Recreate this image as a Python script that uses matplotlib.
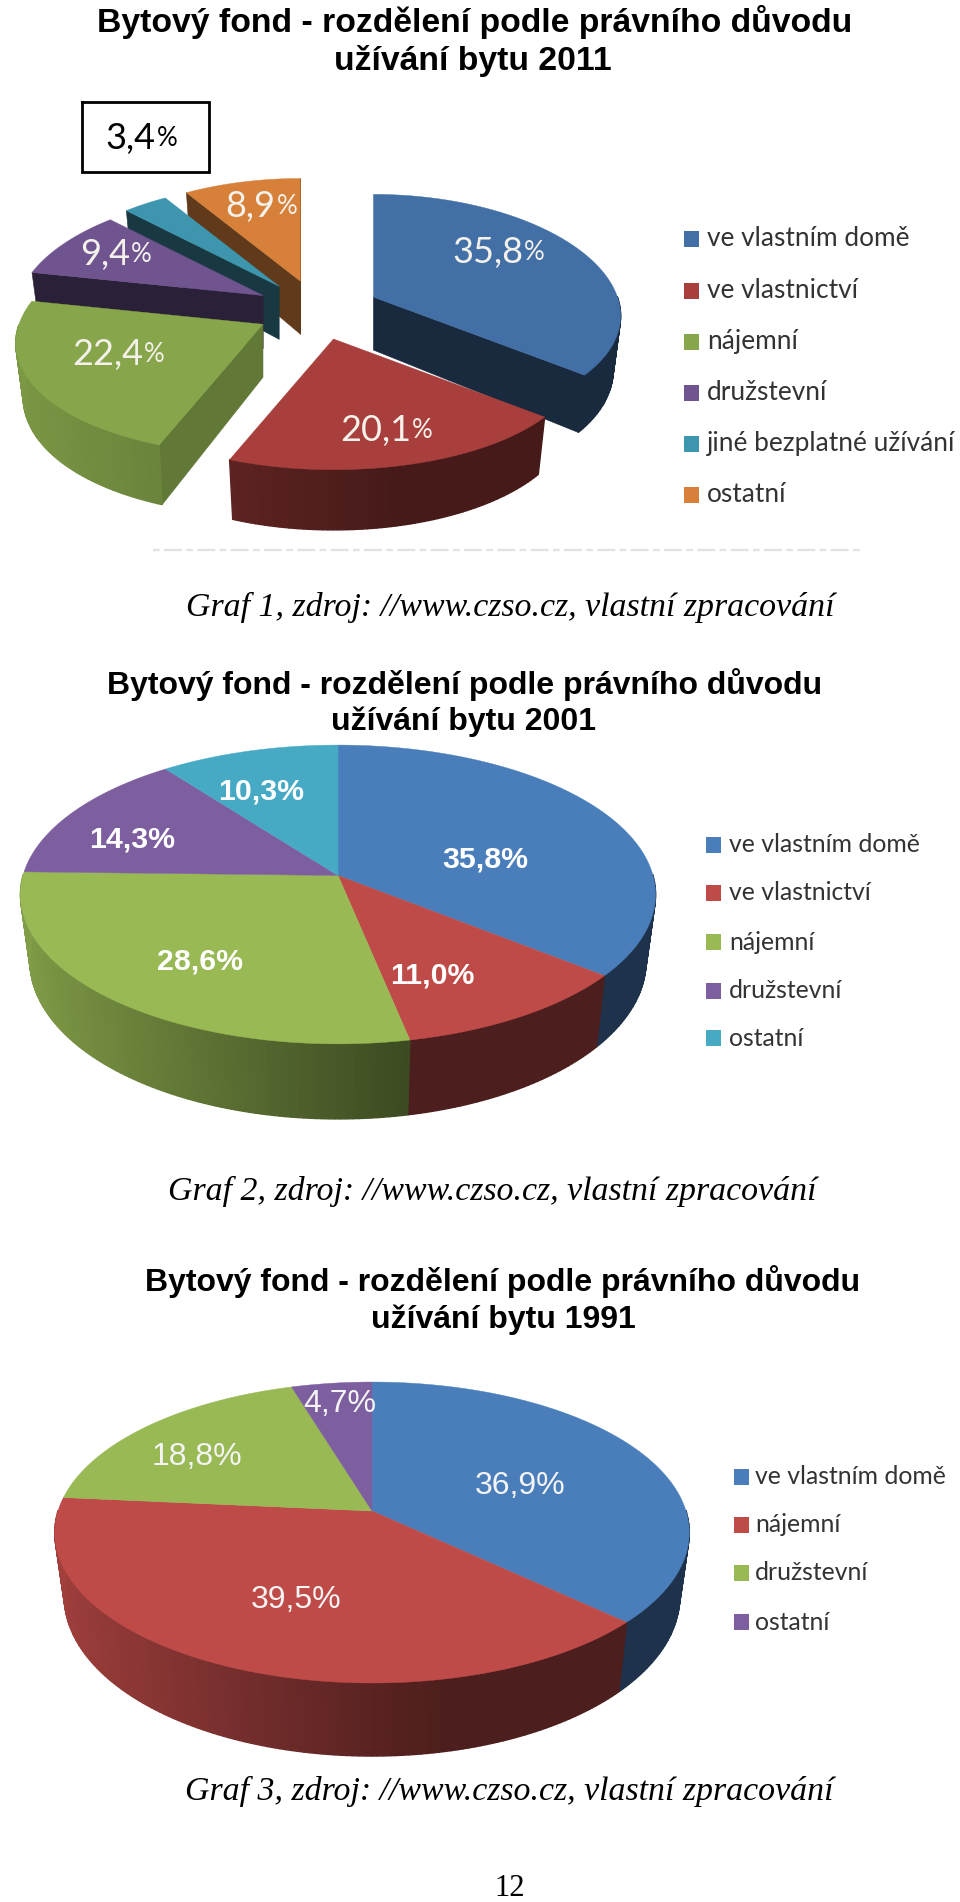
import numpy as np
import matplotlib
matplotlib.use("Agg")
import matplotlib.pyplot as plt
from matplotlib.colors import to_rgb

# ---- data ----
TITLE_LINE1 = "Bytový fond - rozdělení podle právního důvodu"
labels_2011 = ["ve vlastním domě", "ve vlastnictví", "nájemní", "družstevní", "jiné bezplatné užívání", "ostatní"]
values_2011 = [35.8, 20.1, 22.4, 9.4, 3.4, 8.9]
labels_2001 = ["ve vlastním domě", "ve vlastnictví", "nájemní", "družstevní", "ostatní"]
values_2001 = [35.8, 11.0, 28.6, 14.3, 10.3]
labels_1991 = ["ve vlastním domě", "nájemní", "družstevní", "ostatní"]
values_1991 = [36.9, 39.5, 18.8, 4.7]

# ---- styles ----
colors_2011 = ["#426fa5", "#a83f3d", "#87a64b", "#6f5490", "#3e96ae", "#d6803a"]
colors_2001 = ["#4a7ebb", "#be4b48", "#98b954", "#7d5fa0", "#46aac5"]
colors_1991 = ["#4a7ebb", "#be4b48", "#98b954", "#7d5fa0"]

SANS = "Liberation Sans"
LEG = "Lato"
SERIF = "Liberation Serif"

fig = plt.figure(figsize=(9.6, 19.02), dpi=100, facecolor="white")
ax = fig.add_axes([0, 0, 1, 1])
ax.set_xlim(0, 960)
ax.set_ylim(1902, 0)
ax.axis("off")


def shade(col, f):
    return tuple(c * f for c in to_rgb(col))


def wedge_faces(start, end, apex, geom, col, wall_f=None, curve_rng=(0.85, 0.40), zbase=2.0):
    """start/end: clockwise degrees from 12 o'clock."""
    rx, ry, k, h, shrink, kx = geom
    ax0, ay0 = apex

    def pt(theta, r=1.0, z=0.0):
        u, v = np.sin(theta) * r, np.cos(theta) * r
        s = 1.0 / (1.0 + k * v)
        sx = 1.0 / (1.0 + kx * v)
        sc = shrink if z else 1.0
        return ax0 + rx * u * sx * sc, ay0 - ry * v * s + z * s

    t0, t1 = np.radians(start), np.radians(end)
    apex_b = pt(0.0, 0.0, h)
    # radial walls
    if wall_f is not None:
        for th, nrm in ((t0, t0 - np.pi / 2), (t1, t1 + np.pi / 2)):
            if np.cos(nrm) < 0:
                p1, p2 = pt(th), pt(th, 1.0, h)
                c = shade(col, wall_f)
                ax.fill([ax0, p1[0], p2[0], apex_b[0]], [ay0, p1[1], p2[1], apex_b[1]],
                        color=c, lw=0.4, zorder=zbase)
    # curved wall, drawn as thin shaded strips
    n = max(int((end - start) / 1.0), 2)
    ths = np.linspace(t0, t1, n + 1)
    for a, b in zip(ths[:-1], ths[1:]):
        if np.cos((a + b) / 2) > 0.0:
            continue
        u = np.sin((a + b) / 2)
        frac = np.clip((u + 1.0) / 1.2, 0, 1)
        f = curve_rng[0] + (curve_rng[1] - curve_rng[0]) * frac
        p = [pt(a), pt(b), pt(b, 1.0, h), pt(a, 1.0, h)]
        ax.fill([q[0] for q in p], [q[1] for q in p], color=shade(col, f), lw=1.0, zorder=zbase + 0.1)
    # top surface
    ts = np.linspace(t0, t1, n + 1)
    xs = [ax0] + [pt(t)[0] for t in ts]
    ys = [ay0] + [pt(t)[1] for t in ts]
    ax.fill(xs, ys, color=col, lw=0.3, zorder=zbase + 0.2)


def draw_pie(values, colors, center, geom, explode=None, wall_fs=None, curve_rngs=None, orders=None):
    edges = np.concatenate([[0], np.cumsum(values)]) / sum(values) * 360
    idx = range(len(values)) if orders is None else orders
    for rank, i in enumerate(idx):
        a, b = edges[i], edges[i + 1]
        apex = center
        if explode is not None:
            mid = np.radians((a + b) / 2)
            apex = (center[0] + explode[0] * np.sin(mid), center[1] - explode[1] * np.cos(mid))
        wedge_faces(a, b, apex, geom, colors[i],
                    wall_f=None if wall_fs is None else wall_fs[i],
                    curve_rng=(0.85, 0.40) if curve_rngs is None else curve_rngs[i],
                    zbase=2 + rank)


def pct(v):
    return f"{v:.1f}".replace(".", ",")


renderer = fig.canvas.get_renderer()


def mixed_label(x, y, v, size, color):
    a = ax.text(0, y, pct(v), fontsize=size, family=LEG, color=color, ha="left", va="center", zorder=20)
    b = ax.text(0, y, "%", fontsize=size * 0.72, family=LEG, color=color, ha="left", va="center", zorder=20)
    wa = a.get_window_extent(renderer).width
    wb = b.get_window_extent(renderer).width
    a.set_x(x - (wa + wb) / 2)
    b.set_x(x - (wa + wb) / 2 + wa + 1)


def legend(labels, colors, x_sq, x_txt, ys, size):
    for lab, c, y in zip(labels, colors, ys):
        ax.fill_between([x_sq, x_sq + 15], y - 8, y + 8, color=c, lw=0, zorder=5)
        ax.text(x_txt, y, lab, fontsize=size, family=LEG, color="#333333", ha="left", va="center")


def title(cx, y1, y2, year, size=22):
    ax.text(cx[0], y1, TITLE_LINE1, fontsize=size, family=SANS, weight="bold", ha="center", va="center", color="black")
    ax.text(cx[1], y2, f"užívání bytu {year}", fontsize=size, family=SANS, weight="bold", ha="center", va="center", color="black")


def caption(cx, y, n):
    ax.text(cx, y, f"Graf {n}, zdroj: //www.czso.cz, vlastní zpracování", fontsize=24.4, family=SERIF,
            style="italic", ha="center", va="center", color="black")


# ---- chart 1 (2011) ----
title((475, 473), 22, 61, 2011, size=24.3)
geom1 = (244, 115, 0.12, 53, 0.97, 0.16)
draw_pie(values_2011, colors_2011, (317.5, 310), geom1, explode=(62, 30),
         wall_fs=[0.38, 0.40, 0.72, 0.38, 0.38, 0.45],
         curve_rngs=[(0.38, 0.38), (0.70, 0.42), (0.92, 0.68), (0.38, 0.38), (0.38, 0.38), (0.45, 0.45)],
         orders=[5, 4, 3, 0, 2, 1])
pos1 = [(498, 252), (386, 430), (118, 355), (115, 254), None, (261, 206)]
for v, p in zip(values_2011, pos1):
    if p is not None:
        mixed_label(p[0], p[1], v, 26, "#f4f1ea")
ax.plot([82, 209, 209, 82, 82], [102, 102, 172, 172, 102], color="black", lw=2, zorder=6, solid_joinstyle="miter")
mixed_label(141, 139, values_2011[4], 26, "black")
legend(labels_2011, colors_2011, 684, 707, [239, 291, 342, 393, 444, 495], 18.9)
ax.plot([153, 863], [550, 550], color="#e2e2e2", lw=1.6, ls=(0, (3, 2, 8, 2)), zorder=1)
caption(510, 607, 1)

# ---- chart 2 (2001) ----
title((464.5, 463.5), 685, 722, 2001, size=23)
geom2 = (315, 147, 0.127, 65.5, 0.97, 0.127)
draw_pie(values_2001, colors_2001, (338, 875.5), geom2)
pos2 = [(485, 859), (432, 975), (200, 961), (132, 839), (261, 791)]
for v, p in zip(values_2001, pos2):
    ax.text(p[0], p[1], pct(v) + "%", fontsize=21.8, family=SANS, weight="bold", color="white",
            ha="center", va="center", zorder=20)
legend(labels_2001, colors_2001, 706, 729, [844.5, 893, 942, 991, 1038], 17.8)
caption(492, 1191, 2)

# ---- chart 3 (1991) ----
title((503, 503), 1282, 1320, 1991, size=23)
geom3 = (314, 147.4, 0.143, 62.6, 0.97, 0.143)
draw_pie(values_1991, colors_1991, (372, 1511), geom3)
pos3 = [(520, 1486), (296, 1600), (197, 1457), (340, 1404)]
for v, p in zip(values_1991, pos3):
    ax.text(p[0], p[1], pct(v) + "%", fontsize=23, family=SANS, color="#f4f4f4",
            ha="center", va="center", zorder=20)
legend(labels_1991, colors_1991, 734, 755, [1476.5, 1525, 1573, 1622], 17.8)
caption(509, 1791, 3)

ax.text(510, 1889, "12", fontsize=22, family=SERIF, ha="center", va="center", color="black")

fig.savefig("out.png", dpi=100, facecolor="white")
